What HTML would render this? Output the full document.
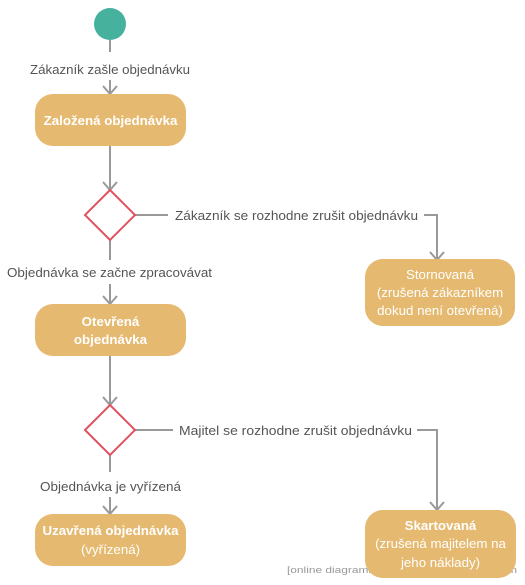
<!DOCTYPE html>
<html><head><meta charset="utf-8"><style>
html,body{margin:0;padding:0;background:#fff;width:525px;height:585px;overflow:hidden}
svg{display:block}
text{font-family:"Liberation Sans",sans-serif}
.l{font-size:13.3px;fill:#555}
.b{font-size:13.3px;fill:#fff;text-anchor:middle}
.bb{font-size:13.3px;fill:#fff;text-anchor:middle;font-weight:bold}
</style></head><body>
<svg width="525" height="585" viewBox="0 0 525 585" xmlns="http://www.w3.org/2000/svg">
<g stroke="#999" stroke-width="2" fill="none">
<line x1="110" y1="40" x2="110" y2="52"/>
<line x1="110" y1="80" x2="110" y2="94"/>
<polyline points="103,86 110,94 117,86"/>
<line x1="110" y1="146" x2="110" y2="190"/>
<polyline points="103,182 110,190 117,182"/>
<line x1="135" y1="215" x2="168" y2="215"/>
<polyline points="424,215 437,215 437,260"/>
<polyline points="430,252 437,260 444,252"/>
<line x1="110" y1="240" x2="110" y2="260"/>
<line x1="110" y1="284" x2="110" y2="304"/>
<polyline points="103,296 110,304 117,296"/>
<line x1="110" y1="356" x2="110" y2="405"/>
<polyline points="103,397 110,405 117,397"/>
<line x1="135" y1="430" x2="173" y2="430"/>
<polyline points="417,430 437,430 437,510"/>
<polyline points="430,502 437,510 444,502"/>
<line x1="110" y1="455" x2="110" y2="472"/>
<line x1="110" y1="497" x2="110" y2="514"/>
<polyline points="103,506 110,514 117,506"/>
</g>
<circle cx="110" cy="24" r="16" fill="#46b29d"/>
<text class="l" x="30" y="74" textLength="160" lengthAdjust="spacingAndGlyphs">Zákazník zašle objednávku</text>
<rect x="35" y="94" width="151" height="52" rx="18" fill="#e5b96f"/>
<text class="bb" x="110.5" y="125">Založená objednávka</text>
<polygon points="110,190 135,215 110,240 85,215" fill="#fff" stroke="#e0525f" stroke-width="2"/>
<text class="l" x="175" y="220" textLength="243" lengthAdjust="spacingAndGlyphs">Zákazník se rozhodne zrušit objednávku</text>
<rect x="365" y="259" width="150" height="67" rx="18" fill="#e5b96f"/>
<text class="b" x="440" y="279">Stornovaná</text>
<text class="b" x="440" y="297">(zrušená zákazníkem</text>
<text class="b" x="440" y="315">dokud není otevřená)</text>
<text class="l" x="7" y="277" textLength="205" lengthAdjust="spacingAndGlyphs">Objednávka se začne zpracovávat</text>
<rect x="35" y="304" width="151" height="52" rx="18" fill="#e5b96f"/>
<text class="bb" x="110.5" y="326">Otevřená</text>
<text class="bb" x="110.5" y="344">objednávka</text>
<polygon points="110,405 135,430 110,455 85,430" fill="#fff" stroke="#e0525f" stroke-width="2"/>
<text class="l" x="179" y="435" textLength="233" lengthAdjust="spacingAndGlyphs">Majitel se rozhodne zrušit objednávku</text>
<text class="l" x="40" y="491" textLength="141" lengthAdjust="spacingAndGlyphs">Objednávka je vyřízená</text>
<rect x="35" y="514" width="151" height="52" rx="18" fill="#e5b96f"/>
<text class="bb" x="110.5" y="535">Uzavřená objednávka</text>
<text class="b" x="110.5" y="554">(vyřízená)</text>
<text x="287" y="573" style="font-size:9px;fill:#999" textLength="230" lengthAdjust="spacingAndGlyphs">[online diagramming &amp; design] creately.com</text>
<rect x="365" y="510" width="151" height="68" rx="18" fill="#e5b96f"/>
<text class="bb" x="440.5" y="530">Skartovaná</text>
<text class="b" x="440.5" y="548">(zrušená majitelem na</text>
<text class="b" x="440.5" y="567">jeho náklady)</text>
</svg>
</body></html>
